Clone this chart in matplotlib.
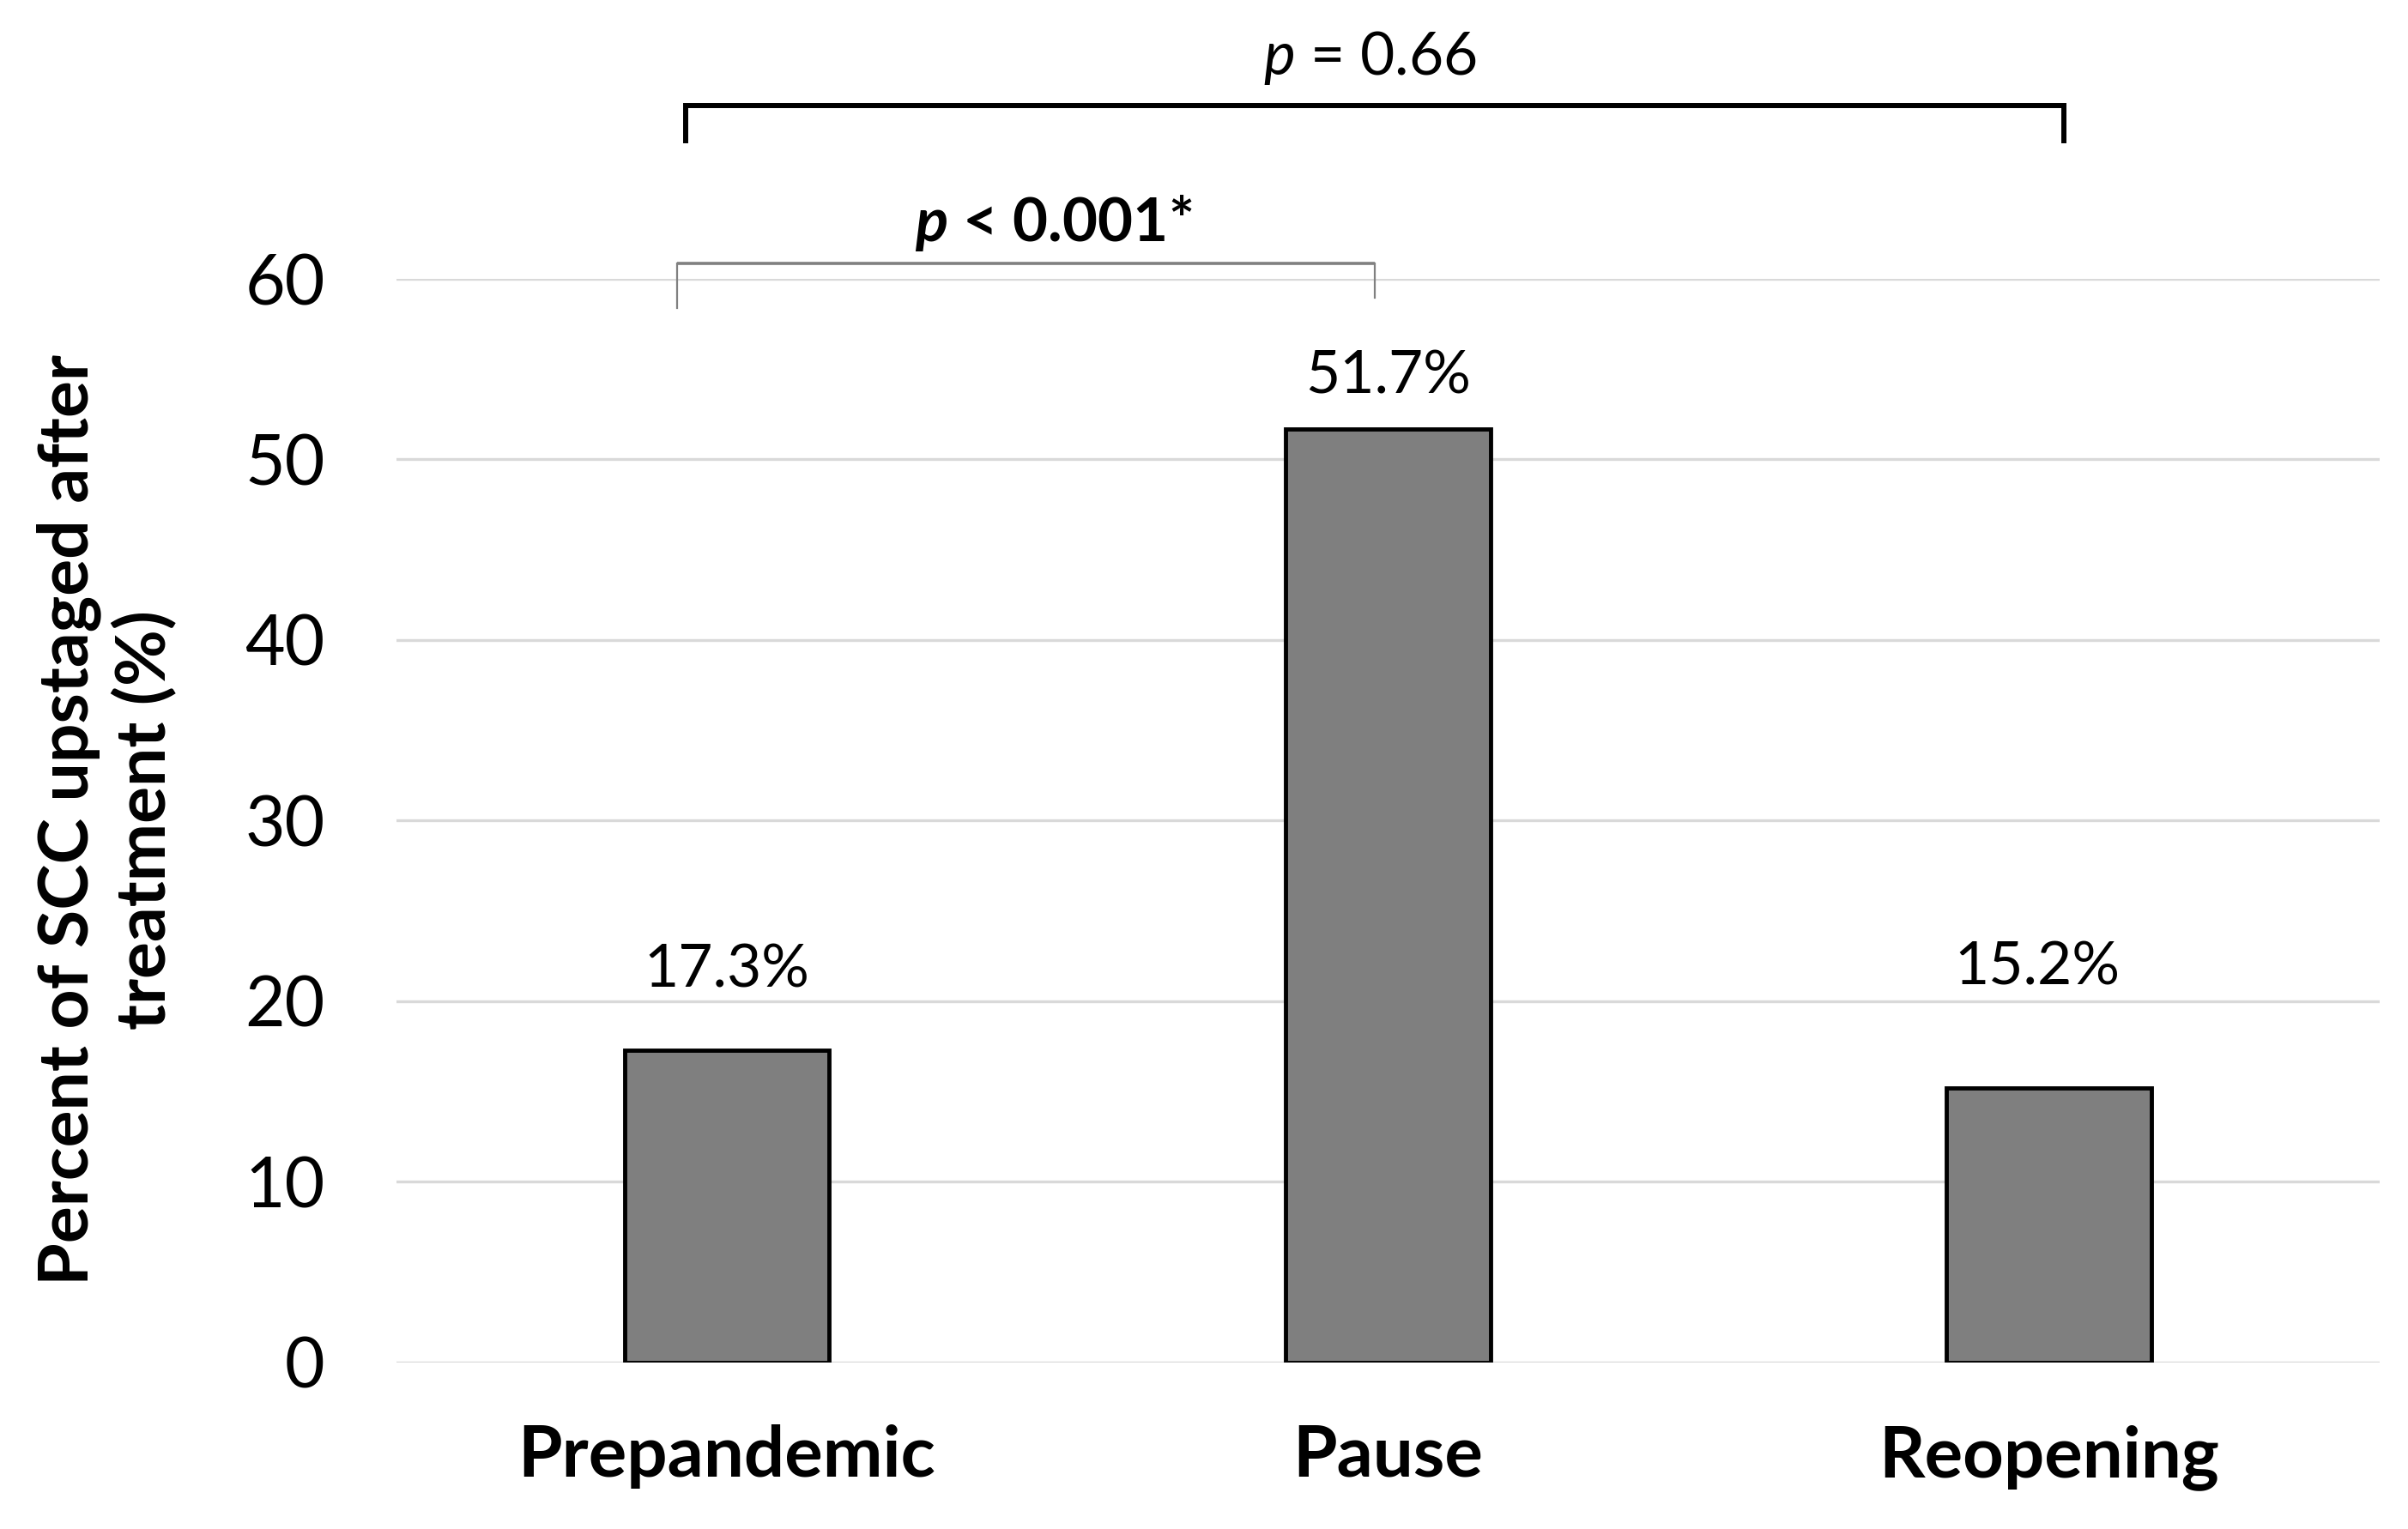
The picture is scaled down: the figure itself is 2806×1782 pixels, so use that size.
import matplotlib
matplotlib.use('Agg')
import matplotlib.pyplot as plt

# data
groups = ['Prepandemic', 'Pause', 'Reopening']
upstaged_pct = [17.3, 51.7, 15.2]
value_labels = ['17.3%', '51.7%', '15.2%']
label_lift = [53, 30, 87]  # points above bar top (as placed in original)
label_shift = [0, 0, -10]  # sideways nudge, points
y_ticks = [0, 10, 20, 30, 40, 50, 60]

plt.rcParams['font.family'] = ['Lato', 'DejaVu Sans']
plt.rcParams['mathtext.fontset'] = 'custom'
plt.rcParams['mathtext.rm'] = 'Lato'
plt.rcParams['mathtext.it'] = 'Lato:italic'
plt.rcParams['mathtext.bf'] = 'Lato:bold'
plt.rcParams['mathtext.bfit'] = 'Lato:italic:bold'

fig = plt.figure(figsize=(28.06, 17.82), dpi=100)
ax = fig.add_axes([0.1646, 0.109, 0.8236, 0.7086])

x = range(len(groups))
ax.bar(x, upstaged_pct, width=0.31, color='#7f7f7f', edgecolor='black',
       linewidth=3.5, zorder=3)

ax.set_xlim(-0.5, 2.5)
ax.set_ylim(0, 60)
ax.set_yticks(y_ticks)
ax.set_yticklabels([str(t) for t in y_ticks], fontsize=58)
ax.set_xticks(list(x))
ax.set_xticklabels(groups, fontsize=60, fontweight='bold')
ax.tick_params(axis='y', length=0, pad=60)
ax.tick_params(axis='x', length=0, pad=52)
for s in ax.spines.values():
    s.set_visible(False)
ax.yaxis.grid(True, color='#d9d9d9', linewidth=2.4, zorder=0)
ax.set_axisbelow(True)

# value labels
for i, v in enumerate(upstaged_pct):
    ax.annotate(value_labels[i], (i, v), xytext=(label_shift[i], label_lift[i]),
                textcoords='offset points', ha='center', va='baseline',
                fontsize=50)

# significance brackets
ax.plot([-0.063, -0.063, 2.023, 2.023], [67.66, 69.6, 69.6, 67.66],
        color='black', linewidth=4.3, clip_on=False, solid_joinstyle='miter')
ax.text(0.973, 71.3, r'$\mathit{p}$ = 0.66', ha='center', va='baseline',
        fontsize=50)

ax.plot([-0.075, 0.98], [60.84, 60.84], color='#808080', linewidth=2.6,
        clip_on=False, solid_capstyle='butt')
ax.plot([-0.075, -0.075], [60.84, 58.38], color='#808080', linewidth=1.6,
        clip_on=False)
ax.plot([0.98, 0.98], [60.84, 58.95], color='#808080', linewidth=1.6,
        clip_on=False)
ax.text(0.494, 62.07, r'$\mathbfit{p}$ < 0.001*', ha='center', va='baseline',
        fontsize=51, fontweight='bold')

fig.text(0.0445, 0.464, 'Percent of SCC upstaged after\ntreatment (%)',
         rotation=90, ha='center', va='center', fontsize=58,
         fontweight='bold', linespacing=1.2, multialignment='center')

plt.savefig('out.png', dpi=100)
